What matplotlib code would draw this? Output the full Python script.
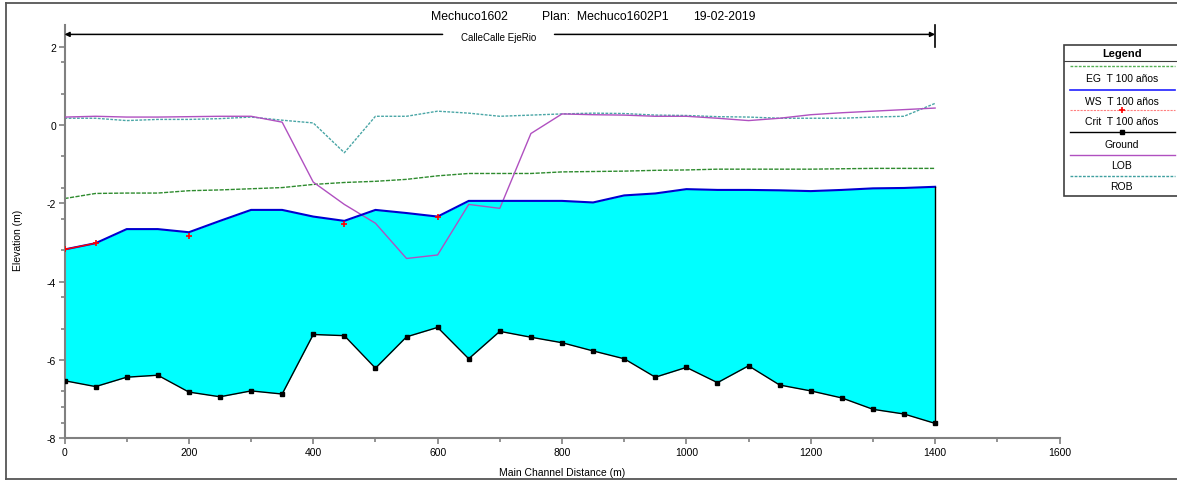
import numpy as np
import matplotlib.pyplot as plt
from matplotlib.patches import Rectangle

plt.rcParams['font.family'] = ['Liberation Sans', 'DejaVu Sans']
plt.rcParams['axes.unicode_minus'] = False

W, H = 1177, 481

# profile stations along the main channel (m)
station = [0, 50, 100, 150, 200, 250, 300, 350, 400, 450, 500, 550, 600, 650,
           700, 750, 800, 850, 900, 950, 1000, 1050, 1100, 1150, 1200, 1250,
           1300, 1350, 1400]
ground = [-6.53, -6.68, -6.44, -6.39, -6.82, -6.94, -6.79, -6.87, -5.35,
          -5.38, -6.21, -5.41, -5.17, -5.97, -5.27, -5.42, -5.56, -5.77,
          -5.97, -6.44, -6.19, -6.58, -6.15, -6.64, -6.79, -6.97, -7.26,
          -7.38, -7.62]
ws = [-3.18, -3.02, -2.66, -2.66, -2.74, -2.45, -2.17, -2.17, -2.34, -2.45,
      -2.17, -2.25, -2.34, -1.94, -1.94, -1.94, -1.94, -1.98, -1.80, -1.75,
      -1.64, -1.66, -1.66, -1.67, -1.69, -1.66, -1.62, -1.61, -1.58]
eg = [-1.88, -1.75, -1.74, -1.74, -1.68, -1.66, -1.63, -1.60, -1.52, -1.47,
      -1.44, -1.39, -1.30, -1.24, -1.24, -1.24, -1.20, -1.19, -1.18, -1.16,
      -1.15, -1.13, -1.13, -1.13, -1.13, -1.12, -1.11, -1.11, -1.11]
nan = np.nan
crit = [-3.18, -3.02, nan, nan, -2.83, nan, nan, nan, nan, -2.52, nan, nan,
        -2.34, nan, nan, nan, nan, nan, nan, nan, nan, nan, nan, nan, nan,
        nan, nan, nan, nan]
lob = [0.20, 0.22, 0.20, 0.20, 0.21, 0.22, 0.22, 0.07, -1.46, -2.03, -2.51,
       -3.41, -3.32, -2.03, -2.13, -0.22, 0.28, 0.26, 0.25, 0.22, 0.22, 0.17,
       0.11, 0.17, 0.26, 0.31, 0.35, 0.39, 0.43]
rob = [0.17, 0.17, 0.11, 0.14, 0.14, 0.16, 0.20, 0.12, 0.05, -0.71, 0.22,
       0.22, 0.35, 0.30, 0.22, 0.25, 0.28, 0.30, 0.29, 0.25, 0.24, 0.21,
       0.20, 0.17, 0.17, 0.17, 0.20, 0.22, 0.55]

xticks = [0, 200, 400, 600, 800, 1000, 1200, 1400, 1600]
yticks = [-8, -6, -4, -2, 0, 2]
yminor = [1.6, 0.8, -0.8, -1.6, -2.4, -3.2, -4.4, -5.2, -6.8, -7.2, -7.6]

legend_rows = [
    ('EG  T 100 años', dict(color='#55b055', lw=1.0, ls=(0, (2, 1)))),
    ('WS  T 100 años', dict(color='#2020ff', lw=1.2)),
    ('Crit  T 100 años', dict(color='#ff8080', lw=0.8, ls=(0, (2, 1)))),
    ('Ground', dict(color='black', lw=1.0)),
    ('LOB', dict(color='#b050c0', lw=1.0)),
    ('ROB', dict(color='#40a0a0', lw=1.0, ls=(0, (2, 1)))),
]

fig = plt.figure(figsize=(W / 100, H / 100), dpi=100)

# pixel-space layer for the page frame, titles and legend box
ov = fig.add_axes([0, 0, 1, 1])
ov.set_xlim(0, W)
ov.set_ylim(H, 0)
ov.axis('off')
frame = '#555555'
ov.plot([5.7, W + 5], [4, 4], color=frame, lw=1.3)
ov.plot([5.7, 5.7], [4, 480], color=frame, lw=1.3)
ov.plot([5.7, W + 5], [480, 480], color=frame, lw=1.3)

ov.text(431, 17.3, 'Mechuco1602', ha='left', va='center', fontsize=8.8)
ov.text(542, 17.3, 'Plan:  Mechuco1602P1', ha='left', va='center',
        fontsize=8.8)
ov.text(756, 17.3, '19-02-2019', ha='right', va='center', fontsize=8.8)
ov.text(18.3, 240, 'Elevation (m)', rotation=90, ha='center', va='center',
        fontsize=7.5)
ov.text(562, 473, 'Main Channel Distance (m)', ha='center', va='center',
        fontsize=7.5)

# legend drawn HEC-RAS style: sample line above each label
ov.add_patch(Rectangle((1064, 46), 120, 150.7, facecolor='white',
                       edgecolor='#404040', lw=1.2))
ov.text(1121.7, 54, 'Legend', ha='center', va='center', fontsize=8,
        fontweight='bold')
ov.plot([1064, 1184], [62, 62], color='#404040', lw=0.8)
line_y = [67.3, 90.7, 111.3, 133.3, 155.7, 177.3]
text_y = [79.3, 101.7, 121.7, 145, 166, 186.7]
for (label, style), ly, ty in zip(legend_rows, line_y, text_y):
    ov.plot([1070, 1175], [ly, ly], **style)
    ov.text(1121.7, ty, label, ha='center', va='center', fontsize=7.5)
ov.plot([1121.7], [line_y[2]], marker='+', color='red', ms=5, mew=1.2)
ov.plot([1121.7], [line_y[3]], marker='s', color='black', ms=3.5)

ax = fig.add_axes([64.5 / W, 1 - 439.3 / H, 995 / W, (439.3 - 26) / H])
ax.patch.set_alpha(0)

ax.fill_between(station, ground, ws, color='#00ffff', lw=0, zorder=1)
ax.plot(station, eg, color='#2e8b2e', lw=1.0, ls=(0, (3, 1)), zorder=2)
ax.plot(station, rob, color='#4aa6a6', lw=1.0, ls=(0, (2, 1)), zorder=2)
ax.plot(station, lob, color='#b050c0', lw=1.0, zorder=3)
ax.plot(station, ws, color='#0000d0', lw=1.5, zorder=4)
ax.plot(station, crit, color='red', lw=1.0, marker='+', ms=5, mew=1.2,
        zorder=5)
ax.plot(station, ground, color='black', lw=1.0, marker='s', ms=3.5, zorder=6)
ax.plot([station[-1], station[-1]], [ground[-1], ws[-1]], color='black',
        lw=1.0, zorder=6)

# reach extent arrow with river / reach name
ay = 2.31
ax.annotate('', xy=(station[0], ay), xytext=(608, ay),
            arrowprops=dict(arrowstyle='-|>', color='black', lw=1.1,
                            mutation_scale=7, shrinkA=0, shrinkB=0),
            annotation_clip=False)
ax.annotate('', xy=(station[-1], ay), xytext=(788, ay),
            arrowprops=dict(arrowstyle='-|>', color='black', lw=1.1,
                            mutation_scale=7, shrinkA=0, shrinkB=0),
            annotation_clip=False)
ax.plot([station[-1], station[-1]], [2.0, 2.56], color='black', lw=1.2,
        clip_on=False)
ax.text(698, 2.25, 'CalleCalle EjeRio', ha='center', va='center',
        fontsize=7)

ax.set_xlim(0, 1600)
ax.set_ylim(-8, 2.55)
ax.set_xticks(xticks)
ax.set_xticks(list(range(100, 1600, 200)), minor=True)
ax.set_yticks(yticks)
ax.set_yticks(yminor, minor=True)
ax.set_xticklabels([str(t) for t in xticks])
ax.set_yticklabels([str(t) for t in yticks])

for side in ('top', 'right'):
    ax.spines[side].set_visible(False)
for side in ('left', 'bottom'):
    ax.spines[side].set_color('#808080')
    ax.spines[side].set_linewidth(1.5)
ax.tick_params(which='both', direction='out', color='#808080', width=1.2,
               labelsize=7.5, labelcolor='black')
ax.tick_params(which='major', length=4, pad=2)
ax.tick_params(which='minor', length=3)

fig.savefig('out.png', dpi=100)
